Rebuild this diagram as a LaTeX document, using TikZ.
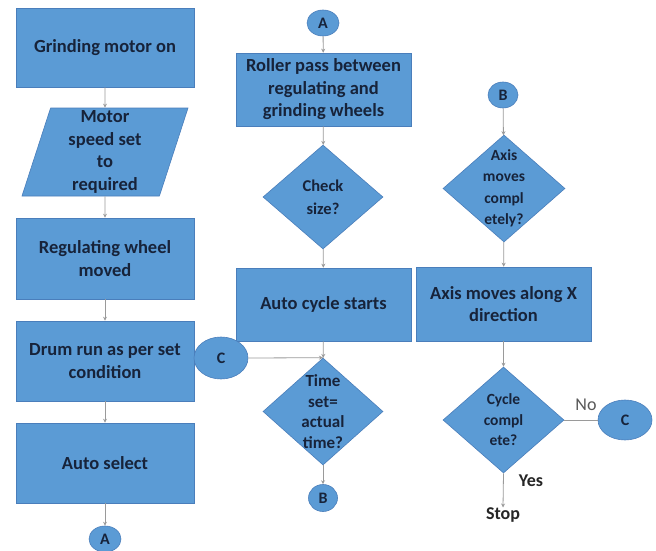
\documentclass[tikz,border=0pt]{standalone}
\usepackage{fontspec}
\setmainfont{Carlito}
\usetikzlibrary{shapes.geometric,arrows.meta}
\definecolor{flowfill}{HTML}{5B9BD5}
\definecolor{flowedge}{HTML}{4A7EBB}
\definecolor{flowtext}{HTML}{17233A}
\definecolor{linkgray}{HTML}{9A9A9A}
\definecolor{notegray}{HTML}{262626}

\begin{document}
\begin{tikzpicture}[x=1pt,y=-1pt,
  shapebase/.style={fill=flowfill, draw=flowedge, line width=0.6pt,
    text=flowtext, align=center, inner sep=0pt},
  procbox/.style={shapebase, rectangle,
    font=\bfseries\fontsize{18.5}{22.5}\selectfont},
  iobox/.style={shapebase, trapezium, trapezium left angle=71,
    trapezium right angle=109, trapezium stretches body,
    font=\bfseries\fontsize{18.5}{22.7}\selectfont},
  decision/.style={shapebase, diamond},
  dtext/.style={text=flowtext, align=center, inner sep=0pt},
  connector/.style={shapebase, ellipse, font=\bfseries\fontsize{16}{18}\selectfont},
  link/.style={draw=linkgray, line width=0.8pt},
  flow/.style={link, -{Stealth[length=4pt,width=4pt]}},
  note/.style={text=notegray, inner sep=0pt, font=\fontsize{18}{20}\selectfont}]

\useasboundingbox (0,0) rectangle (656,551);
\fill[white] (0,0) rectangle (656,551);

% left column
\node[procbox, minimum width=178, minimum height=79] (motor) at (105,47.5) {Grinding motor on};
\node[iobox, minimum width=166, minimum height=88] (speed) at (105,152) {Motor\\speed set\\to\\required};
\node[procbox, minimum width=178, minimum height=81] (regwheel) at (105,258.5) {Regulating wheel\\moved};
\node[procbox, minimum width=178, minimum height=80] (drum) at (105,361) {Drum run as per set\\condition};
\node[procbox, minimum width=178, minimum height=80] (autosel) at (105,463) {Auto select};
\node[connector, minimum width=32, minimum height=26] (aout) at (105,539) {A};

% middle column
\node[connector, minimum width=32, minimum height=26] (ain) at (323,23) {A};
\node[procbox, minimum width=175, minimum height=73] (roller) at (323.5,89.5) {Roller pass between\\regulating and\\grinding wheels};
\node[decision, minimum width=120, minimum height=104] (check) at (323,197) {};
\node[dtext, font=\bfseries\fontsize{16.5}{23}\selectfont] (check-t) at (check) {Check\\size?};
\node[procbox, minimum width=175, minimum height=73] (cycle) at (323.5,304.5) {Auto cycle starts};
\node[connector, minimum width=54, minimum height=42] (cin) at (221,358) {C};
\node[decision, minimum width=120, minimum height=107] (timechk) at (323,411.5) {};
\node[dtext, font=\bfseries\fontsize{17}{20.5}\selectfont] (timechk-t) at (timechk) {Time\\set=\\actual\\time?};
\node[connector, minimum width=29, minimum height=27] (bout) at (323,498) {B};

% right column
\node[connector, minimum width=30, minimum height=26] (bin) at (503,95) {B};
\node[decision, minimum width=122, minimum height=107] (axischk) at (504,188.5) {};
\node[dtext, font=\bfseries\fontsize{15.5}{21.5}\selectfont] (axischk-t) at (axischk) {Axis\\moves\\compl\\etely?};
\node[procbox, minimum width=175, minimum height=74] (axisx) at (503.5,304) {Axis moves along X\\direction};
\node[decision, minimum width=121, minimum height=106] (done) at (503.5,420) {};
\node[dtext, font=\bfseries\fontsize{15.5}{20.5}\selectfont] (done-t) at (done) {Cycle\\compl\\ete?};
\node[connector, minimum width=54, minimum height=40] (cout) at (625,420) {C};
\node[note, font=\bfseries\fontsize{18}{20}\selectfont] (stop) at (503,515) {Stop};
\node[note, font=\bfseries\fontsize{18}{20}\selectfont] (yes) at (531,481) {Yes};
\node[note, text=black!65] (no) at (586,405) {No};

% connectors
\draw[flow] (motor) -- (speed);
\draw[flow] (speed) -- (regwheel);
\draw[flow] (regwheel) -- (drum);
\draw[flow] (drum) -- (autosel);
\draw[flow] (autosel) -- (aout);

\draw[flow] (ain) -- (roller);
\draw[flow] (roller) -- (check);
\draw[flow] (check) -- (cycle);
\draw[flow] (cycle) -- (timechk);
\draw[flow] (cin.east) -- (timechk.north);
\draw[flow] (timechk) -- (bout);

\draw[flow] (bin) -- (axischk);
\draw[flow] (axischk) -- (axisx);
\draw[flow] (axisx) -- (done);
\draw[link] (done.east) -- (cout.west);
\draw[flow] (done.south) -- (stop.north);
\end{tikzpicture}
\end{document}
